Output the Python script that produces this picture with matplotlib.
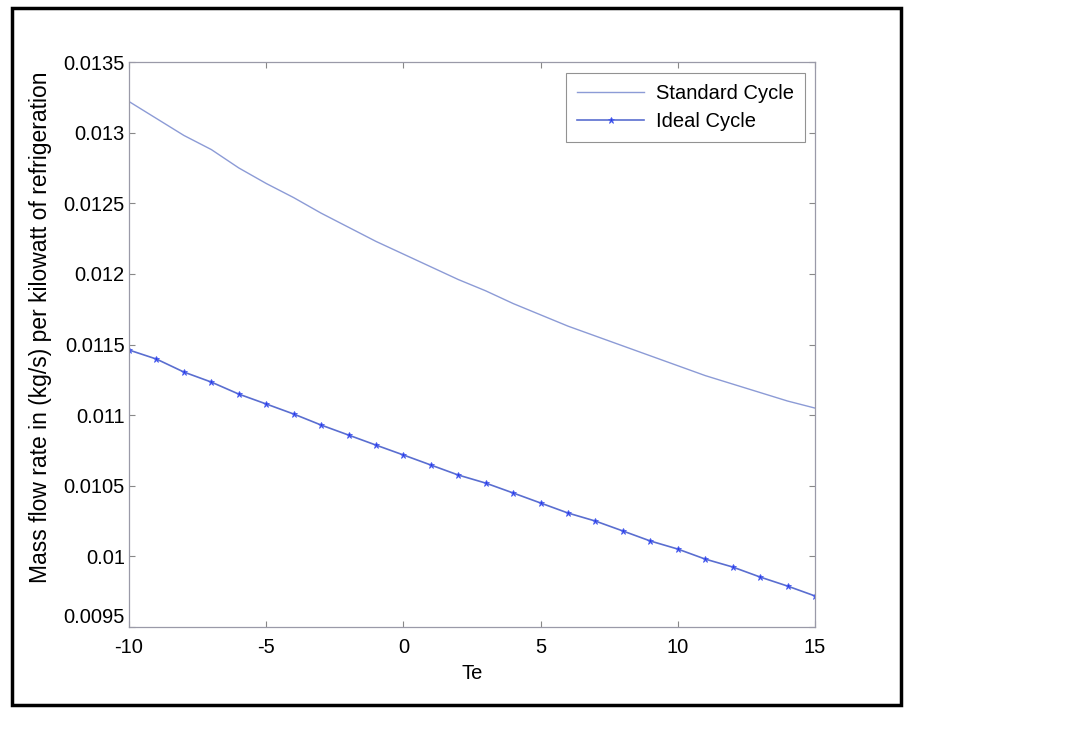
import matplotlib
matplotlib.use("Agg")
import matplotlib.pyplot as plt
from matplotlib.patches import Rectangle

plt.rcParams['font.family'] = ['Liberation Sans', 'DejaVu Sans']

# Evaporator temperature (deg C)
te = list(range(-10, 16))

# Mass flow rate per kW of refrigeration
standard_cycle = [0.01322, 0.01310, 0.01298, 0.01288, 0.01275, 0.01264,
                  0.01254, 0.01243, 0.01233, 0.01223, 0.01214, 0.01205,
                  0.01196, 0.01188, 0.01179, 0.01171, 0.01163, 0.01156,
                  0.01149, 0.01142, 0.01135, 0.01128, 0.01122, 0.01116,
                  0.01110, 0.01105]
ideal_cycle = [0.011461, 0.011397, 0.011305, 0.011234, 0.011149, 0.011079,
               0.011008, 0.010930, 0.010859, 0.010788, 0.010718, 0.010647,
               0.010576, 0.010519, 0.010449, 0.010378, 0.010307, 0.010250,
               0.010180, 0.010109, 0.010052, 0.009981, 0.009925, 0.009854,
               0.009790, 0.009720]

y_ticks = [0.0095, 0.01, 0.0105, 0.011, 0.0115, 0.012, 0.0125, 0.013, 0.0135]
y_tick_labels = ['0.0095', '0.01', '0.0105', '0.011', '0.0115', '0.012',
                 '0.0125', '0.013', '0.0135']
x_ticks = [-10, -5, 0, 5, 10, 15]

fig = plt.figure(figsize=(10.78, 7.32), dpi=100)
ax = fig.add_axes([0.1197, 0.1434, 0.6363, 0.7719])

ax.plot(te, standard_cycle, color='#8c9bd6', lw=1.0, label='Standard Cycle')
ax.plot(te, ideal_cycle, color='#5a6ed0', lw=1.2, marker='*', ms=5,
        mfc='#2a3ae0', mec='#4a5ff0', mew=0.6, label='Ideal Cycle')

ax.set_xlim(-10, 15)
ax.set_ylim(0.0095, 0.0135)
ax.set_xticks(x_ticks)
ax.set_xticklabels([str(v) for v in x_ticks])
ax.set_yticks(y_ticks)
ax.set_yticklabels(y_tick_labels)
ax.tick_params(direction='in', length=4, width=0.8, color='#888888',
               labelsize=14.5, top=True, right=True)
ax.tick_params(axis='x', pad=8)
ax.tick_params(axis='y', pad=3)
# bottom y label sits just above the axis line, as in the original
ax.get_yticklabels()[0].set_verticalalignment('bottom')
for s in ax.spines.values():
    s.set_color('#9a9aa8')
    s.set_linewidth(0.9)

ax.set_xlabel('Te', fontsize=14.5, labelpad=5)
ax.set_ylabel('Mass flow rate in (kg/s) per kilowatt of refrigeration',
              fontsize=16.5, labelpad=8)
ax.yaxis.label.set_y(0.531)

leg = ax.legend(loc='upper right', fontsize=14.5, frameon=True, fancybox=False,
                edgecolor='#777777', handlelength=3.3, handletextpad=0.6,
                borderpad=0.55, labelspacing=0.45,
                bbox_to_anchor=(1.0, 0.9985))
leg.get_frame().set_linewidth(0.8)

# outer frame around the figure area
fig.patches.append(Rectangle((12 / 1078, 1 - 705 / 732), (901 - 12) / 1078,
                             (705 - 8) / 732, transform=fig.transFigure,
                             fill=False, edgecolor='black', lw=2.5))

fig.savefig('out.png', dpi=100)
